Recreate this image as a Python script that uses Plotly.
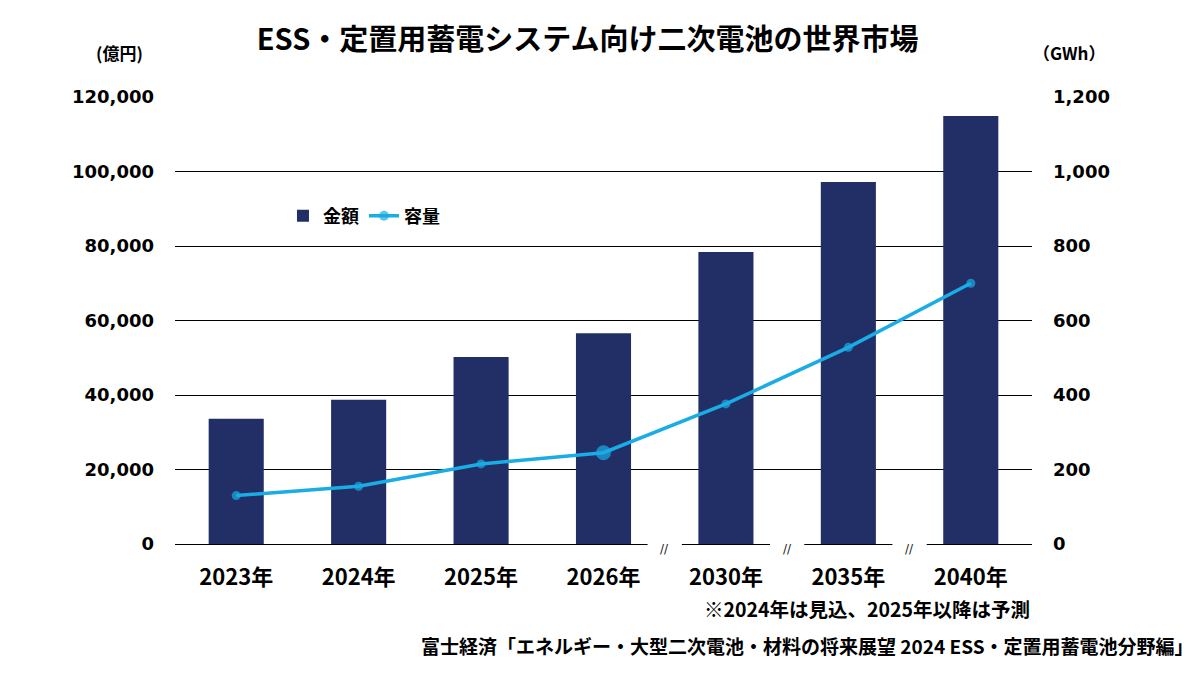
import plotly.graph_objects as go

# ESS / stationary storage battery world market
years = ["2023年", "2024年", "2025年", "2026年", "2030年", "2035年", "2040年"]
amount_oku_yen = [33600, 38700, 50200, 56600, 78400, 97200, 114900]
capacity_gwh = [130, 155, 215, 245, 376, 528, 700]

left_ticks = [0, 20000, 40000, 60000, 80000, 100000, 120000]
right_ticks = [0, 200, 400, 600, 800, 1000, 1200]

# axis breaks sit between these category pairs
break_after = [3, 4, 5]

navy = "#222F66"
sky = "#1AACE4"
jp = "Noto Sans CJK JP"
num = "DejaVu Sans"

fig = go.Figure()

fig.add_trace(go.Bar(
    x=years, y=amount_oku_yen, name="金額",
    marker=dict(color=navy, line=dict(width=0)),
    yaxis="y",
))

# the 2026 point is drawn a bit bigger in the original
msizes = [9, 9, 9, 15, 9, 9, 9]
fig.add_trace(go.Scatter(
    x=years, y=capacity_gwh, name="容量", mode="lines+markers",
    line=dict(color=sky, width=3.5),
    marker=dict(color=sky, size=msizes, line=dict(width=0)),
    yaxis="y2",
))

shapes = []
annotations = []
for b in break_after:
    mid = b + 0.5
    shapes.append(dict(type="rect", xref="x", yref="paper",
                       x0=mid - 0.14, x1=mid + 0.14, y0=-0.006, y1=0.006,
                       fillcolor="white", line=dict(width=0), layer="above"))
    annotations.append(dict(x=mid, y=0, xref="x", yref="y", text="//",
                            showarrow=False, yshift=-5,
                            font=dict(family=num, size=12, color="#222")))

bold = lambda size: dict(family=jp, size=size, color="black", weight="bold")

annotations += [
    dict(text="(億円)", xref="paper", yref="paper", x=-0.065, y=1.10,
         xanchor="center", yanchor="middle", showarrow=False, font=bold(17)),
    dict(text="（GWh）", xref="paper", yref="paper", x=1.044, y=1.10,
         xanchor="center", yanchor="middle", showarrow=False, font=bold(17)),
    dict(text="※2024年は見込、2025年以降は予測", xref="paper", yref="paper",
         x=1.0, y=-0.145, xanchor="right", yanchor="middle", showarrow=False,
         font=bold(19.5)),
    dict(text="富士経済「エネルギー・大型二次電池・材料の将来展望 2024 ESS・定置用蓄電池分野編」",
         xref="paper", yref="paper", x=1.191, y=-0.228, xanchor="right",
         yanchor="middle", showarrow=False, font=bold(19)),
]

# page body adds ~8px offset, so margins are shifted to compensate
fig.update_layout(
    width=1200, height=675,
    paper_bgcolor="white", plot_bgcolor="white",
    margin=dict(l=167, r=176, t=89, b=139, autoexpand=False),
    title=dict(text="ESS・定置用蓄電システム向け二次電池の世界市場",
               x=0.483, xref="container", xanchor="center",
               y=1 - 32 / 675, yref="container", yanchor="middle",
               font=bold(29)),
    bargap=0.55,
    showlegend=True,
    legend=dict(orientation="h", x=0.126, y=0.775, xanchor="left", yanchor="top",
                bgcolor="rgba(0,0,0,0)", itemwidth=30, font=bold(18)),
    xaxis=dict(type="category", showgrid=False, showline=False, ticks="",
               ticklabelstandoff=18, automargin=False, tickfont=bold(22)),
    yaxis=dict(range=[0, 120000], tickvals=left_ticks, tickformat=",",
               showgrid=True, gridcolor="black", gridwidth=1,
               zeroline=True, zerolinecolor="black", zerolinewidth=1,
               showline=False, ticks="", ticklabelstandoff=20, automargin=False,
               tickfont=dict(family=num, size=18, color="black", weight="bold")),
    yaxis2=dict(range=[0, 1200], tickvals=right_ticks, tickformat=",",
                overlaying="y", side="right", showgrid=False, zeroline=False,
                showline=False, ticks="", ticklabelstandoff=20, automargin=False,
                tickfont=dict(family=num, size=18, color="black", weight="bold")),
    shapes=shapes,
    annotations=annotations,
)

fig.write_html("out.html")
